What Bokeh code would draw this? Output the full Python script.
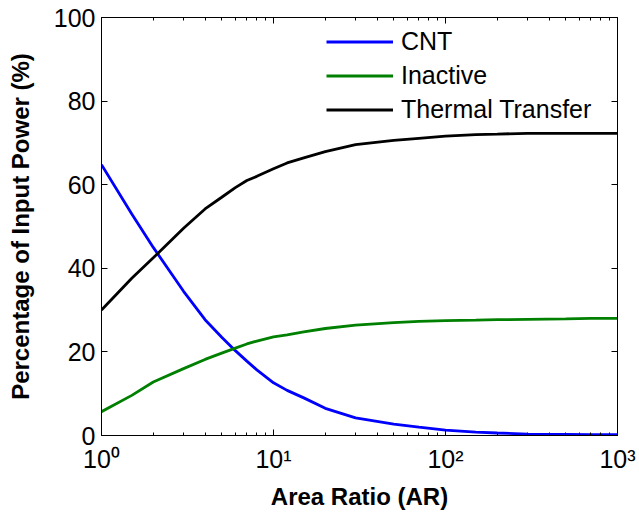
from bokeh.plotting import figure
from bokeh.models import FixedTicker, LinearAxis, LogAxis, Legend, LegendItem
from bokeh.embed import file_html
from bokeh.resources import INLINE

# ---- data ----
area_ratio = [1, 1.5, 2, 3, 4, 5, 6, 7, 8, 10, 12, 15, 20, 30, 50, 70, 100, 150, 200, 300, 500, 700, 1000]
cnt = [64.8, 53.0, 45.0, 34.5, 27.7, 23.5, 20.3, 17.8, 15.7, 12.6, 10.8, 9.0, 6.5, 4.2, 2.7, 2.0, 1.3, 0.8, 0.6, 0.35, 0.25, 0.2, 0.2]
inactive = [5.7, 9.6, 12.8, 16.0, 18.2, 19.7, 20.9, 21.9, 22.6, 23.6, 24.1, 24.8, 25.6, 26.4, 27.0, 27.3, 27.5, 27.6, 27.7, 27.8, 27.9, 28.0, 28.0]
thermal = [30.0, 37.6, 42.5, 49.6, 54.2, 57.0, 59.3, 61.0, 62.0, 63.8, 65.2, 66.4, 67.9, 69.6, 70.6, 71.1, 71.6, 72.0, 72.1, 72.3, 72.3, 72.3, 72.3]

series_names = ["CNT", "Inactive", "Thermal Transfer"]
series_colors = ["#0000ff", "#008000", "#000000"]

x_major = [1, 10, 100, 1000]
x_labels = ["10\u2070", "10\u00b9", "10\u00b2", "10\u00b3"]
x_minor = [m * d for d in (1, 10, 100) for m in range(2, 10)]
y_major = [0, 20, 40, 60, 80, 100]

FONT = "Liberation Sans"

p = figure(width=639, height=514, x_axis_type="log",
           x_range=(1, 1000), y_range=(0, 100),
           output_backend="svg", toolbar_location=None,
           min_border_left=101, min_border_right=22,
           min_border_top=17, min_border_bottom=79)
p.xgrid.visible = False
p.ygrid.visible = False
p.outline_line_color = "black"
p.outline_line_width = 1
p.background_fill_color = "white"
p.border_fill_color = "white"

renderers = []
for ys, c in zip([cnt, inactive, thermal], series_colors):
    r = p.line(area_ratio, ys, line_color=c, line_width=2.8)
    renderers.append(r)

def style_axis(ax):
    ax.axis_line_color = "black"
    ax.major_tick_in = 6
    ax.major_tick_out = 0
    ax.minor_tick_in = 3
    ax.minor_tick_out = 0
    ax.major_tick_line_color = "black"
    ax.minor_tick_line_color = "black"
    ax.major_label_text_font = FONT
    ax.major_label_text_font_size = "25px"
    ax.major_label_text_color = "black"
    ax.axis_label_text_font = FONT
    ax.axis_label_text_font_size = "24px"
    ax.axis_label_text_font_style = "bold"
    ax.axis_label_text_color = "black"

xax = p.xaxis[0]
xax.ticker = FixedTicker(ticks=x_major, minor_ticks=x_minor)
xax.major_label_overrides = {t: l for t, l in zip(x_major, x_labels)}
style_axis(xax)
xax.axis_label = "Area Ratio (AR)"
xax.major_label_standoff = 9
xax.axis_label_standoff = 7

yax = p.yaxis[0]
yax.ticker = FixedTicker(ticks=y_major, minor_ticks=[])
style_axis(yax)
yax.axis_label = "Percentage of Input Power (%)"
yax.major_label_standoff = 6
yax.axis_label_standoff = 17

top = LogAxis(ticker=FixedTicker(ticks=x_major, minor_ticks=x_minor))
style_axis(top)
top.major_label_overrides = {t: "" for t in x_major}
top.major_label_text_font_size = "1px"
p.add_layout(top, "above")

right = LinearAxis(ticker=FixedTicker(ticks=y_major, minor_ticks=[]))
style_axis(right)
right.major_label_overrides = {t: "" for t in y_major}
right.major_label_text_font_size = "1px"
p.add_layout(right, "right")

legend = Legend(items=[LegendItem(label=n, renderers=[r]) for n, r in zip(series_names, renderers)],
                location=(225, 311), margin=0, padding=5, spacing=5,
                glyph_width=67, glyph_height=29, label_height=29, label_standoff=8,
                label_text_font=FONT, label_text_font_size="25px", label_text_color="black",
                border_line_color=None, background_fill_alpha=0)
p.add_layout(legend, "center")

open("out.html", "w").write(file_html(p, INLINE))
